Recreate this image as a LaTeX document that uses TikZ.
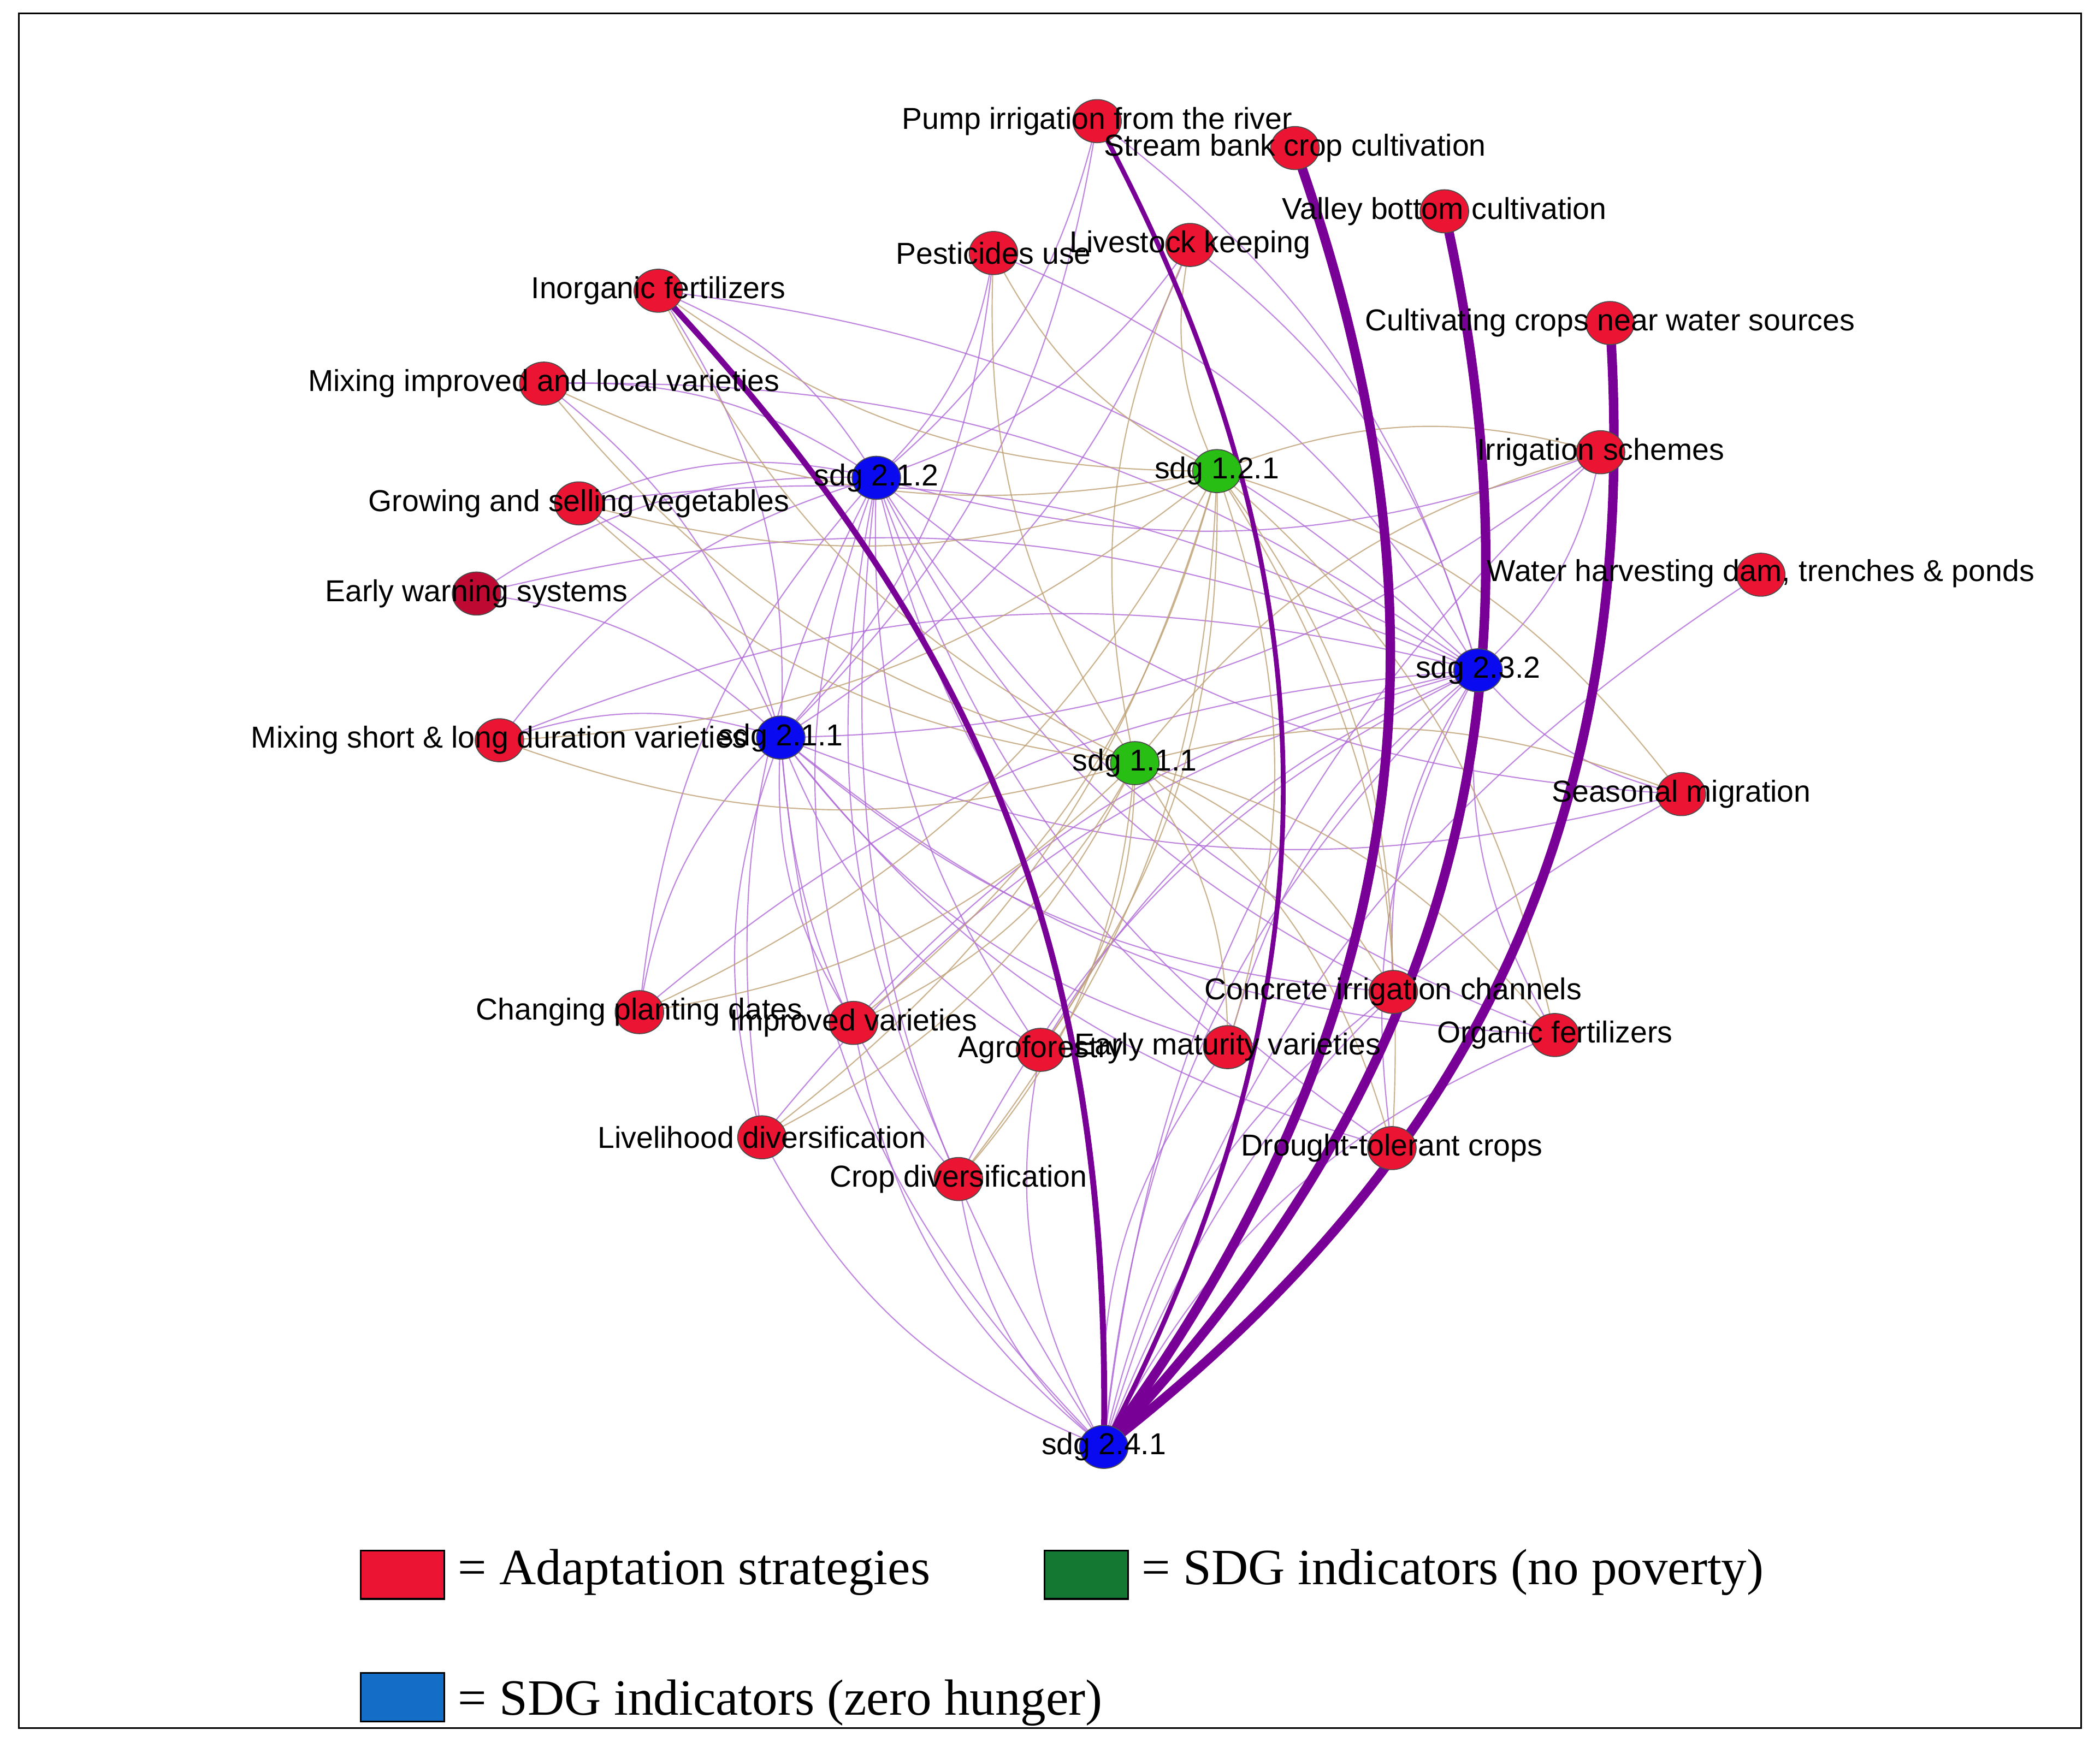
\documentclass[tikz,border=0pt]{standalone}
\usepackage{fontspec}
\setmainfont{Liberation Serif}
\newfontfamily\lab{Liberation Sans}
\usetikzlibrary{shapes.geometric}
\definecolor{sred}{RGB}{235,20,50}
\definecolor{dred}{RGB}{190,10,50}
\definecolor{sblue}{RGB}{10,10,240}
\definecolor{sgreen}{RGB}{40,190,20}
\definecolor{lgreen}{RGB}{20,120,50}
\definecolor{lblue}{RGB}{20,110,200}
\definecolor{ep}{RGB}{175,105,215}
\definecolor{et}{RGB}{190,160,115}
\definecolor{thick}{RGB}{120,0,150}
\tikzset{
 v/.style={ellipse,draw=black!70,line width=0.4pt,minimum width=0.72cm,minimum height=0.64cm,inner sep=0pt},
 r/.style={v,fill=sred}, b/.style={v,fill=sblue}, g/.style={v,fill=sgreen},
 lb/.style={font=\lab\fontsize{12.8}{14}\selectfont,inner sep=0pt},
 pe/.style={draw=ep,line width=0.5pt,opacity=0.8},
 te/.style={draw=et,line width=0.5pt,opacity=0.8},
 hv/.style={draw=thick,line width=#1},
 lg/.style={draw=black,line width=0.8pt,minimum width=1.24cm,minimum height=0.72cm,inner sep=0pt},
 lt/.style={font=\fontsize{21.5}{24}\selectfont,anchor=west,inner sep=0pt}
}
\begin{document}
\begin{tikzpicture}[x=0.02cm,y=-0.02cm]
\useasboundingbox (0,0) rectangle (1560,1294);
\fill[white] (0,0) rectangle (1560,1294);
\draw[line width=0.8pt] (14,10) rectangle (1546,1284);
% coordinates
\foreach \n/\x/\y in {pump/815/90,stream/962/110,valley/1073/157,cult/1196/240,irr/1189/336,water/1308/427,
 seas/1249/590,conc/1035/737,org/1155/769,drought/1034/853,early/912/778,agro/773/780,impr/634/760,
 chang/475/752,liveli/566/845,cropd/712/876,mixs/371/550,warn/354/441,grow/430/374,mixi/404/285,
 inorg/489/216,pest/738/188,live/884/182,
 s232/1098/498,s241/820/1075,s211/580/548,s111/843/567,s121/904/350,s212/651/355}
 \coordinate (c\n) at (\x,\y);
% thin purple edges (zero hunger indicators)
\foreach \s in {s211,s212,s232}{
 \foreach \t in {pump,live,pest,inorg,mixi,grow,warn,mixs,chang,impr,agro,early,conc,org,drought,liveli,cropd,irr,seas}{
  \draw[pe] (c\s) to[bend right=18] (c\t);}}
\foreach \t in {cropd,liveli,agro,early,impr,conc,org,irr,water,seas,s211,s212,s232}{
  \draw[pe] (cs241) to[bend left=20] (c\t);}
% thin tan edges (no poverty indicators)
\foreach \s in {s111,s121}{
 \foreach \t in {live,pest,inorg,mixi,grow,mixs,chang,impr,agro,early,conc,org,drought,liveli,cropd,irr,seas}{
  \draw[te] (c\s) to[bend left=18] (c\t);}}
% heavy edges
\draw[hv=2.5pt] (cs241) to[bend right=22] (cinorg);
\draw[hv=2pt] (cs241) to[bend right=28] (cpump);
\draw[hv=4pt] (cs241) to[bend right=28] (cstream);
\draw[hv=4pt] (cs241) to[bend right=28] (cvalley);
\draw[hv=4pt] (cs241) to[bend right=28] (ccult);
% nodes
\foreach \n in {pump,stream,valley,cult,irr,water,seas,conc,org,drought,early,agro,impr,chang,liveli,cropd,mixs,grow,mixi,inorg,pest,live}
 \node[r] (\n) at (c\n) {};
\node[v,fill=dred] (warn) at (cwarn) {};
\node[b] (s232) at (cs232) {};
\node[b] (s241) at (cs241) {};
\node[b] (s211) at (cs211) {};
\node[b] (s212) at (cs212) {};
\node[g] (s111) at (cs111) {};
\node[g] (s121) at (cs121) {};
% labels
\foreach \n/\t in {pump/Pump irrigation from the river,stream/Stream bank crop cultivation,valley/Valley bottom cultivation,
 cult/Cultivating crops near water sources,irr/Irrigation schemes,seas/Seasonal migration,
 conc/Concrete irrigation channels,org/Organic fertilizers,drought/Drought-tolerant crops,early/Early maturity varieties,
 agro/Agroforestry,impr/Improved varieties,chang/Changing planting dates,liveli/Livelihood diversification,
 cropd/Crop diversification,mixs/Mixing short \& long duration varieties,warn/Early warning systems,
 grow/Growing and selling vegetables,mixi/Mixing improved and local varieties,inorg/Inorganic fertilizers,
 pest/Pesticides use,live/Livestock keeping,s232/sdg 2.3.2,s241/sdg 2.4.1,s211/sdg 2.1.1,s111/sdg 1.1.1,
 s121/sdg 1.2.1,s212/sdg 2.1.2}
 \node[lb] at (\n) {\t};
\node[lb] at (1308,426) {Water harvesting dam, trenches \& ponds};
% legend
\node[lg,fill=sred] (l1) at (299,1170) {};
\node[lt] at (340,1168) {= Adaptation strategies};
\node[lg,fill=lgreen] (l2) at (807,1170) {};
\node[lt] at (848,1168) {= SDG indicators (no poverty)};
\node[lg,fill=lblue] (l3) at (299,1261) {};
\node[lt] at (340,1265) {= SDG indicators (zero hunger)};
\end{tikzpicture}
\end{document}
